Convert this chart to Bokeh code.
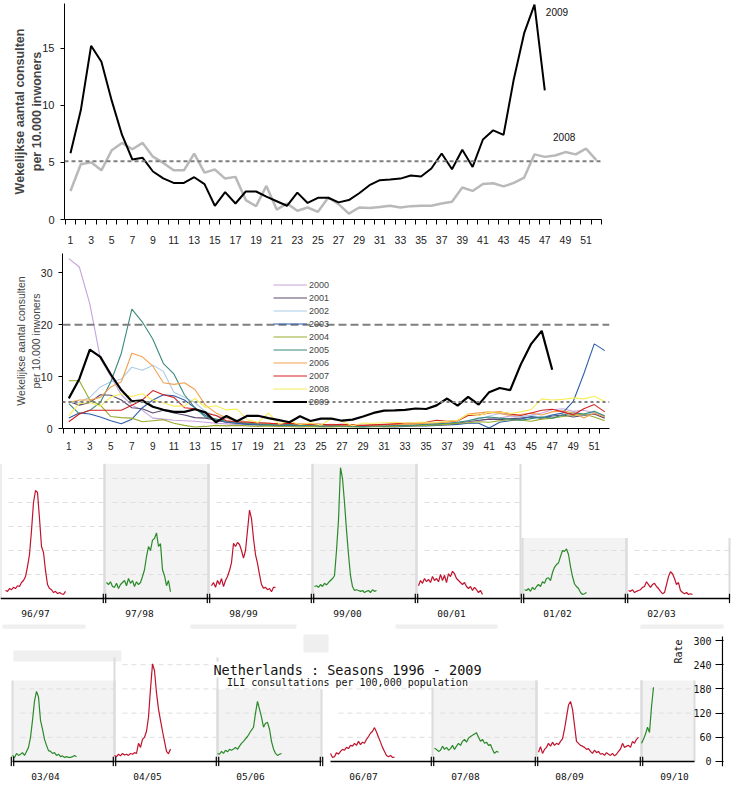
import math
from bokeh.plotting import figure
from bokeh.models import Range1d, FixedTicker, LinearAxis, Span, Label, Legend, LegendItem
from bokeh.embed import file_html
from bokeh.resources import INLINE
from bokeh.core.properties import value

# ------------------------------------------------------------------ data
weeks = list(range(1, 53))

ili_2008 = [2.5, 4.84, 5.0, 4.3, 6.06, 6.7, 6.15, 6.7, 5.5, 4.95, 4.3, 4.3, 5.77, 4.1, 4.37, 3.58,
            3.73, 1.7, 1.17, 2.94, 0.87, 1.4, 0.76, 1.05, 0.67, 1.92, 1.34, 0.52, 1.05, 1.0, 1.1,
            1.2, 1.05, 1.17, 1.2, 1.2, 1.4, 1.55, 2.8, 2.5, 3.1, 3.17, 2.9, 3.2, 3.67, 5.7, 5.48,
            5.6, 5.9, 5.7, 6.2, 5.2]
ili_2009 = [5.8, 9.55, 15.2, 13.8, 10.4, 7.4, 5.25, 5.4, 4.2, 3.6, 3.2, 3.2, 3.7, 3.1, 1.2, 2.4,
            1.4, 2.45, 2.45, 2.0, 1.6, 1.2, 2.35, 1.45, 1.9, 1.9, 1.5, 1.7, 2.3, 3.0, 3.44, 3.5,
            3.58, 3.85, 3.76, 4.46, 5.77, 4.4, 6.1, 4.6, 7.0, 7.8, 7.4, 12.3, 16.3, 18.8, 11.3]

ili_2000 = [32.7, 31.1, 24.0, 13.5, 10.0, 6.5, 4.5, 3.5, 2.0, 1.8, 1.6, 1.5, 1.4, 1.2, 1.0, 0.9,
            0.8, 0.7, 0.7, 0.6, 0.5, 0.6, 0.5, 0.5, 0.4, 0.5, 0.5, 0.4, 0.4, 0.4, 0.5, 0.4, 0.5,
            0.6, 0.7, 0.7, 0.8, 1.0, 1.3, 1.5, 1.8, 2.0, 2.4, 2.2, 2.6, 3.0, 3.6, 3.8, 3.3, 3.5,
            3.0, 2.4]
ili_2001 = [5.2, 4.5, 5.0, 6.5, 6.4, 5.5, 4.0, 3.8, 3.0, 3.5, 3.0, 2.6, 2.1, 2.0, 1.6, 1.2, 1.0,
            0.9, 0.8, 0.7, 0.6, 0.8, 0.6, 0.5, 0.5, 0.6, 0.5, 0.4, 0.5, 0.5, 0.4, 0.5, 0.6, 0.6,
            0.7, 0.8, 0.9, 1.0, 1.4, 1.6, 1.8, 1.7, 1.9, 2.0, 2.2, 2.0, 2.4, 2.6, 2.2, 2.5, 2.8,
            2.0]
ili_2002 = [5.0, 5.1, 6.0, 8.0, 9.0, 9.5, 11.8, 11.2, 12.2, 11.0, 7.0, 6.0, 5.0, 3.2, 2.5, 2.0,
            1.6, 1.3, 1.1, 1.0, 0.9, 0.8, 0.8, 0.7, 0.6, 0.7, 0.6, 0.5, 0.5, 0.6, 0.5, 0.6, 0.6,
            0.7, 0.8, 0.9, 1.0, 1.2, 1.5, 1.8, 2.4, 2.9, 2.6, 2.3, 2.5, 2.2, 2.6, 3.0, 2.8, 2.6,
            3.1, 2.5]
ili_2003 = [2.0, 3.0, 2.8, 2.2, 1.5, 0.9, 1.8, 4.0, 5.5, 6.5, 6.3, 5.5, 4.0, 2.5, 1.7, 1.2, 1.0,
            0.8, 0.7, 0.6, 0.5, 0.6, 0.5, 0.4, 0.4, 0.5, 0.4, 0.4, 0.3, 0.4, 0.4, 0.3, 0.4, 0.5,
            0.5, 0.6, 0.7, 0.8, 1.0, 1.0, 0.1, 1.2, 1.5, 1.8, 2.3, 2.0, 2.6, 3.0, 5.2, 10.5, 16.3,
            15.0]
ili_2004 = [9.2, 9.2, 5.5, 4.5, 2.3, 2.1, 2.0, 1.3, 1.5, 1.7, 1.0, 0.6, 0.3, 0.4, 0.6, 0.5, 0.6,
            0.5, 0.4, 0.5, 0.4, 0.4, 0.3, 0.4, 0.3, 0.3, 0.4, 0.3, 0.3, 0.4, 0.3, 0.4, 0.5, 0.5,
            0.6, 0.7, 0.8, 1.0, 1.1, 1.3, 1.2, 1.5, 1.7, 1.6, 1.4, 1.8, 2.0, 2.3, 2.5, 2.8, 2.2,
            1.5]
ili_2005 = [4.8, 2.8, 3.5, 5.0, 9.0, 14.5, 23.0, 20.5, 17.2, 12.5, 10.5, 6.5, 4.0, 2.2, 1.8, 1.4,
            1.2, 1.0, 0.9, 0.8, 0.7, 0.8, 0.6, 0.6, 0.5, 0.6, 0.5, 0.5, 0.4, 0.5, 0.5, 0.6, 0.6,
            0.7, 0.8, 0.9, 1.0, 1.2, 1.5, 2.0, 2.2, 2.0, 1.8, 1.6, 1.9, 2.2, 2.0, 2.6, 3.0, 2.8,
            3.3, 2.4]
ili_2006 = [5.0, 5.5, 5.5, 6.0, 8.0, 9.0, 14.5, 13.8, 12.0, 8.8, 8.5, 8.8, 7.5, 4.5, 3.0, 2.0,
            1.5, 1.3, 1.1, 1.0, 0.9, 1.0, 0.8, 0.8, 0.7, 0.8, 0.7, 0.6, 0.6, 0.7, 0.7, 0.8, 0.8,
            0.9, 1.0, 1.1, 1.2, 1.5, 2.8, 3.0, 3.2, 2.9, 2.5, 2.7, 3.0, 2.6, 3.2, 3.4, 3.0, 2.0,
            3.0, 2.2]
ili_2007 = [1.3, 2.8, 3.5, 3.5, 3.5, 3.5, 4.5, 5.5, 7.3, 6.5, 6.0, 4.0, 3.8, 3.0, 2.5, 1.5, 1.3,
            1.2, 1.1, 1.0, 0.9, 1.0, 0.8, 0.9, 0.8, 0.7, 0.8, 0.7, 0.6, 0.7, 0.8, 0.9, 1.0, 1.1,
            1.2, 1.6, 1.4, 1.5, 2.5, 2.6, 3.0, 3.2, 2.8, 2.5, 3.0, 3.5, 3.7, 3.2, 2.6, 3.8, 4.6,
            3.2]

years = ["2000", "2001", "2002", "2003", "2004", "2005", "2006", "2007", "2008", "2009"]
year_series = [ili_2000, ili_2001, ili_2002, ili_2003, ili_2004, ili_2005, ili_2006, ili_2007,
               ili_2008, ili_2009]

baseline_threshold = 5.1
epidemic_threshold = 20

# seasons (ILI consultations per 100,000), weekly from week 40
seasons_row1 = ["96/97", "97/98", "98/99", "99/00", "00/01", "01/02", "02/03"]
seasons_row2 = ["03/04", "04/05", "05/06", "06/07", "07/08", "08/09", "09/10"]
s9697 = [20, 18, 25, 22, 28, 25, 32, 30, 40, 45, 55, 80, 110, 170, 240, 270, 265, 200, 130, 115,
         70, 35, 25, 22, 15, 18, 12, 15, 12, 10, 18]
s9798 = [40, 35, 42, 30, 28, 38, 25, 35, 40, 45, 32, 50, 38, 45, 30, 42, 35, 40, 55, 72, 105, 130,
         120, 146, 150, 164, 130, 137, 72, 57, 32, 45, 17]
s9899 = [32, 40, 28, 45, 35, 50, 30, 45, 55, 70, 90, 138, 130, 140, 135, 120, 101, 120, 170, 221,
         200, 150, 110, 88, 60, 35, 26, 28, 22, 25, 17, 28, 28]
s9900 = [30, 32, 28, 35, 30, 38, 34, 40, 45, 50, 57, 120, 196, 327, 300, 240, 171, 110, 57, 30,
         20, 22, 20, 18, 20, 15, 18, 20, 15, 22, 18, 20]
s0001 = [32, 45, 38, 50, 42, 48, 40, 55, 45, 50, 42, 60, 45, 58, 40, 62, 55, 68, 62, 50, 45, 40,
         35, 40, 30, 25, 30, 20, 28, 22, 15, 20, 10]
s0102 = [22, 20, 25, 18, 28, 22, 30, 35, 30, 42, 38, 50, 52, 45, 65, 78, 85, 89, 105, 120, 118,
         124, 110, 80, 55, 37, 30, 25, 15, 10, 12, 15]
s0203 = [20, 18, 22, 15, 18, 20, 22, 28, 30, 42, 35, 28, 35, 38, 30, 25, 18, 12, 15, 35, 55, 67,
         62, 50, 35, 40, 20, 15, 12, 15, 10, 12, 10]
s0304 = [15, 10, 20, 15, 18, 22, 15, 25, 35, 60, 102, 150, 174, 160, 102, 80, 55, 40, 27, 25, 20,
         22, 15, 18, 12, 14, 10, 12, 10, 10, 12, 15, 12]
s0405 = [15, 12, 18, 14, 20, 16, 18, 15, 20, 18, 22, 20, 45, 35, 55, 60, 75, 110, 180, 242, 225,
         170, 130, 102, 75, 50, 25, 19, 31]
s0506 = [20, 18, 25, 20, 28, 24, 30, 28, 31, 35, 30, 38, 45, 50, 56, 62, 70, 78, 85, 120, 149, 130,
         110, 85, 95, 97, 80, 50, 31, 20, 15, 18, 20]
s0607 = [20, 10, 12, 22, 18, 25, 30, 28, 35, 32, 40, 38, 45, 40, 50, 42, 48, 45, 55, 62, 70, 75, 84,
         73, 60, 48, 35, 25, 15, 12, 15, 10, 11]
s0708 = [33, 30, 25, 28, 38, 30, 35, 28, 32, 40, 30, 38, 45, 40, 50, 55, 48, 58, 62, 65, 68, 71, 60,
         50, 55, 45, 48, 40, 42, 30, 20, 25, 23]
s0809 = [23, 37, 20, 30, 35, 45, 38, 48, 40, 45, 42, 50, 56, 80, 110, 140, 149, 130, 90, 50, 45, 40,
         38, 35, 30, 32, 25, 20, 28, 22, 25, 18, 20, 15, 22, 18, 15, 20, 14, 18, 25, 31, 45, 35, 38,
         40, 35, 50, 45, 55, 60]
s0910 = [45, 55, 68, 85, 72, 135, 184]
rate_ticks = [0, 60, 120, 180, 240, 300]

row1_series = [s9697, s9798, s9899, s9900, s0001, s0102, s0203]
row2_series = [s0304, s0405, s0506, s0607, s0708, s0809, s0910]

# ------------------------------------------------------------------ styles / layout
SANS = "Liberation Sans"
MONO = "DejaVu Sans Mono"
RED = "#c0122c"
GREEN = "#2a8a2a"
year_colors = ["#c8a2dc", "#5c4a6e", "#a9cde9", "#2f5fa8", "#9aab2e", "#3a8a7c", "#f3a04e",
               "#d42020", "#f6ee5a", "#000000"]
W = 742

# row geometry (week units, 2 px per week)
row1_start = [0, 52, 104, 156, 208, 261, 313]
row1_end = [52, 104, 156, 208, 260, 313, 364.5]
row1_off = [2.5, 1, 1.5, 1, 1, 1, 1]
row1_top = [337, 337, 337, 337, 337, 151, 151]
row1_gridtop = [337, 337, 337, 337, 337, 151, 151]
row2_start = [0, 51, 102.5, 159, 210, 262, 314.5]
row2_end = [51, 102.5, 154.5, 210, 262, 314.5, 341]
row2_off = [0, 0, 0, 0, 1, 1, 0]
row2_top = [201, 258, 179, 0, 201, 201, 201]
row2_gridtop = [201, 258, 190, 201, 201, 201, 201]


def week_axis(ax, size, standoff):
    ax.ticker = FixedTicker(ticks=weeks, minor_ticks=[w - 0.5 for w in weeks] + [52.5])
    ax.major_label_overrides = {w: (str(w) if w % 2 else "") for w in weeks}
    ax.major_tick_line_color = None
    ax.major_tick_in = 0
    ax.major_tick_out = 0
    ax.minor_tick_in = 0
    ax.minor_tick_out = 5
    ax.minor_tick_line_color = "black"
    ax.axis_line_color = "black"
    ax.major_label_text_font = SANS
    ax.major_label_text_font_size = size
    ax.major_label_standoff = standoff
    ax.major_label_text_color = "#222222"


def value_axis(ax, ticks, size, label, label_size, bold, label_standoff):
    ax.ticker = FixedTicker(ticks=ticks)
    ax.minor_tick_line_color = None
    ax.major_tick_out = 4
    ax.major_tick_in = 0
    ax.major_label_standoff = 6
    ax.major_label_text_font = SANS
    ax.major_label_text_font_size = size
    ax.major_label_text_color = "#222222"
    ax.axis_label = label
    ax.axis_label_text_font = SANS
    ax.axis_label_text_font_size = label_size
    ax.axis_label_text_font_style = "bold" if bold else "normal"
    ax.axis_label_standoff = label_standoff


ylabel = "Wekelijkse aantal consulten\nper 10.000 inwoners"

# ------------------------------------------------------------------ chart 1
p1 = figure(width=W, height=250, x_range=Range1d(0.42, 52.5), y_range=Range1d(0, 18.9),
            output_backend="svg", toolbar_location=None,
            min_border_left=64, min_border_right=W - 64 - 537, min_border_top=3,
            min_border_bottom=31)
p1.outline_line_color = None
p1.grid.visible = False
week_axis(p1.xaxis[0], "10.5px", 11)
value_axis(p1.yaxis[0], [0, 5, 10, 15], "11px", ylabel, "12.5px", True, -5)
p1.add_layout(Span(location=baseline_threshold, dimension="width", line_color="#7f7f7f",
                   line_width=2, line_dash="4 3"))
p1.line(weeks, ili_2008, line_color="#b9b9b9", line_width=2.5)
p1.line(weeks[:len(ili_2009)], ili_2009, line_color="black", line_width=2)
peak = max(ili_2009)
peak_week = weeks[ili_2009.index(peak)]
p1.text(x=[peak_week + 1.1, weeks[47] - 0.2], y=[peak - 0.6, ili_2008[47] + 1.6],
        text=["2009", "2008"], text_font=value(SANS), text_font_size="10px",
        text_baseline="middle", text_color="#111111")

# ------------------------------------------------------------------ chart 2
p2 = figure(width=W, height=202, x_range=Range1d(0.4, 52.45), y_range=Range1d(0, 33.7),
            output_backend="svg", toolbar_location=None,
            min_border_left=62, min_border_right=W - 62 - 547, min_border_top=3,
            min_border_bottom=20)
p2.outline_line_color = None
p2.grid.visible = False
week_axis(p2.xaxis[0], "10px", 8)
value_axis(p2.yaxis[0], [0, 10, 20, 30], "10.5px", ylabel, "10.5px", False, -4)
p2.add_layout(Span(location=epidemic_threshold, dimension="width", line_color="#7f7f7f",
                   line_width=2, line_dash="8 4"))
p2.add_layout(Span(location=baseline_threshold, dimension="width", line_color="#7f7f7f",
                   line_width=2, line_dash="3 3"))
items = []
for yr, vals, col in zip(years, year_series, year_colors):
    r = p2.line(weeks[:len(vals)], vals, line_color=col,
                line_width=2.2 if yr == "2009" else 1.1)
    items.append(LegendItem(label=yr, renderers=[r]))
legend = Legend(items=items, location=(211, 20), background_fill_alpha=0,
                border_line_color=None, glyph_width=34, glyph_height=13, label_height=13,
                spacing=0, padding=0, margin=0, label_standoff=2,
                label_text_font=SANS, label_text_font_size="9px")
p2.add_layout(legend)


# ------------------------------------------------------------------ season rows
def season_row(p, names, series, parity, starts, ends, offs, tops, gridtops, label_shift,
               bars, end_bars):
    p.outline_line_color = None
    p.grid.visible = False
    green = [(k + parity) % 2 == 1 for k in range(len(names))]
    gray = [k for k in range(len(names)) if green[k]]
    p.quad(left=[starts[k] for k in gray], right=[ends[k] for k in gray], bottom=0,
           top=[tops[k] for k in gray], fill_color="#f3f3f3", line_color=None)
    gx0, gx1, gy = [], [], []
    for k in range(len(names)):
        for lvl in rate_ticks[1:]:
            if lvl < gridtops[k]:
                gx0.append(starts[k] + 4)
                gx1.append(ends[k])
                gy.append(lvl)
    p.segment(x0=gx0, y0=gy, x1=gx1, y1=gy, line_color="#dedede", line_width=1,
              line_dash="5 4")
    ex, et = [], []
    for k in range(len(names)):
        if tops[k] > 0:
            ex += [starts[k], ends[k]]
            et += [tops[k], tops[k]]
    p.segment(x0=ex, y0=0, x1=ex, y1=et, line_color="#dcdcdc", line_width=2)
    for k, vals in enumerate(series):
        xs = [starts[k] + offs[k] + i for i in range(len(vals))]
        p.line(xs, vals, line_color=GREEN if green[k] else RED, line_width=1.2)
    p.segment(x0=starts, y0=0, x1=ends, y1=0, line_color="black", line_width=1.5)
    bx = []
    for b in bars:
        bx += [b - 0.6, b + 0.6]
    bx += end_bars
    p.segment(x0=bx, y0=-12, x1=bx, y1=12, line_color="black", line_width=1.2)
    ax = p.xaxis[0]
    ticks = [s + label_shift for s in starts]
    ax.ticker = FixedTicker(ticks=ticks)
    ax.major_label_overrides = {t: n for t, n in zip(ticks, names)}
    ax.axis_line_color = None
    ax.major_tick_line_color = None
    ax.minor_tick_line_color = None
    ax.major_tick_in = 0
    ax.major_tick_out = 0
    ax.major_label_standoff = 4
    ax.major_label_text_font = MONO
    ax.major_label_text_font_size = "9.5px"
    ax.major_label_text_color = "#111111"


p3 = figure(width=W, height=169, x_range=Range1d(0, 367.5), y_range=Range1d(-12.4, 337.5),
            output_backend="svg", toolbar_location=None, y_axis_location=None,
            min_border_left=0, min_border_right=W - 735, min_border_top=11,
            min_border_bottom=17)
season_row(p3, seasons_row1, row1_series, 0, row1_start, row1_end, row1_off, row1_top,
           row1_gridtop, 17.5, row1_start[1:], [row1_end[-1]])

p4 = figure(width=W, height=164, x_range=Range1d(-6, 355.5), y_range=Range1d(-12.4, 344.7),
            output_backend="svg", toolbar_location=None, y_axis_location=None,
            min_border_left=0, min_border_right=W - 723, min_border_top=1,
            min_border_bottom=19)
p4.quad(left=[0.5, 145.5, -5, 89, 191.5, 314], right=[54.5, 158, 36.5, 142, 242.5, 359],
        bottom=[248, 270, 329, 329, 329, 329], top=[275, 315, 340, 340, 340, 340],
        fill_color="#efefef", line_color=None)
season_row(p4, seasons_row2, row2_series, 1, row2_start, row2_end, row2_off, row2_top,
           row2_gridtop, 16.5, [s for s in row2_start if s != 159] + [row2_end[2]], [])

rate_axis = LinearAxis(ticker=FixedTicker(ticks=rate_ticks), fixed_location=355,
                       bounds=(-12, 310), major_tick_in=7, major_tick_out=7,
                       minor_tick_line_color=None, major_label_standoff=4,
                       major_label_text_font=MONO, major_label_text_font_size="10px",
                       major_label_text_color="#111111", axis_line_width=1.2)
p4.add_layout(rate_axis, "left")
p4.add_layout(Label(x=333, y=273, text="Rate", angle=math.pi / 2, text_align="center",
                    text_baseline="middle", text_font=MONO, text_font_size="10px",
                    text_color="#111111"))
p4.add_layout(Label(x=167.5, y=228, text="Netherlands : Seasons 1996 - 2009",
                    text_align="center", text_baseline="middle", text_font=MONO,
                    text_font_size="13.5px", text_color="#111111",
                    background_fill_color="white"))
p4.add_layout(Label(x=167.5, y=197, text="ILI consultations per 100,000 population",
                    text_align="center", text_baseline="middle", text_font=MONO,
                    text_font_size="10px", text_color="#111111",
                    background_fill_color="white"))

open("out.html", "w").write(file_html([p1, p2, p3, p4], INLINE))
